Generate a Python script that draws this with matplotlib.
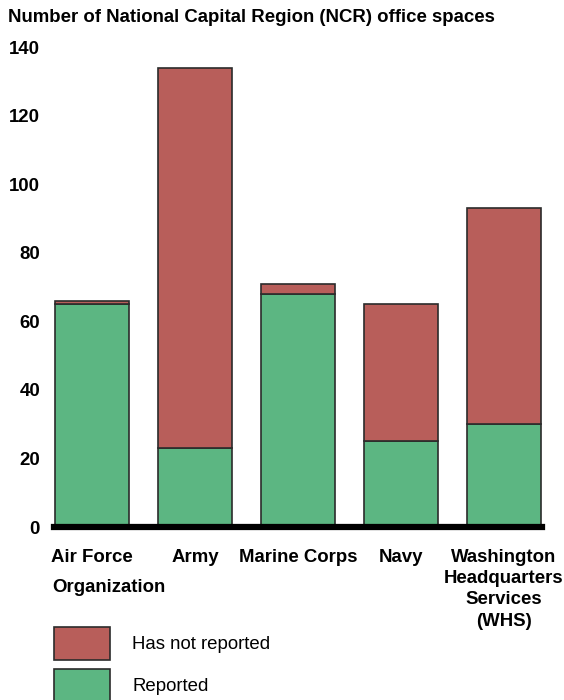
import matplotlib
matplotlib.use("Agg")
import matplotlib.pyplot as plt

plt.rcParams['font.family'] = ['Liberation Sans', 'DejaVu Sans']

categories = ["Air Force", "Army", "Marine Corps", "Navy",
              "Washington\nHeadquarters\nServices\n(WHS)"]
reported = [65, 23, 68, 25, 30]
not_reported = [1, 111, 3, 40, 63]
yticks = [0, 20, 40, 60, 80, 100, 120, 140]

RED = "#B85E5A"
GREEN = "#5CB682"
EDGE = "#2b2b2b"
FS = 13.4

fig = plt.figure(figsize=(5.64, 7.0), dpi=100)
ax = fig.add_axes([54/564, 1-527/700, (542-54)/564, (527-47)/700])

x = range(len(categories))
b1 = ax.bar(x, reported, width=0.72, color=GREEN, edgecolor=EDGE, linewidth=1.2,
            label="Reported", zorder=2)
b2 = ax.bar(x, not_reported, bottom=reported, width=0.72, color=RED, edgecolor=EDGE,
            linewidth=1.2, label="Has not reported", zorder=2)

ax.set_xlim(-0.37, 4.37)
ax.set_ylim(0, 140)
ax.set_yticks(yticks)
ax.set_yticklabels([str(t) for t in yticks], fontsize=FS, fontweight='bold')
ax.set_xticks(list(x))
ax.set_xticklabels(categories, fontsize=FS, fontweight='bold', va='top',
                   linespacing=1.34)
ax.tick_params(axis='both', length=0)
ax.tick_params(axis='y', pad=10)
ax.tick_params(axis='x', pad=15.5)
for s in ['top', 'right', 'left']:
    ax.spines[s].set_visible(False)
ax.spines['bottom'].set_linewidth(4.5)
ax.spines['bottom'].set_color('black')
ax.spines['bottom'].set_zorder(3)

fig.text(8/564, 1-17/700, "Number of National Capital Region (NCR) office spaces",
         fontsize=FS, fontweight='bold', va='center', ha='left')
fig.text(52/564, 1-587/700, "Organization", fontsize=FS, fontweight='bold',
         va='center', ha='left')

fig.legend(handles=[b2, b1], labels=["Has not reported", "Reported"],
           loc='upper left', bbox_to_anchor=(54/564, 1-627/700),
           frameon=False, borderpad=0, borderaxespad=0,
           handlelength=3.0, handleheight=2.35, handletextpad=1.2,
           labelspacing=0.48, fontsize=FS)

fig.savefig("out.png", dpi=100)
